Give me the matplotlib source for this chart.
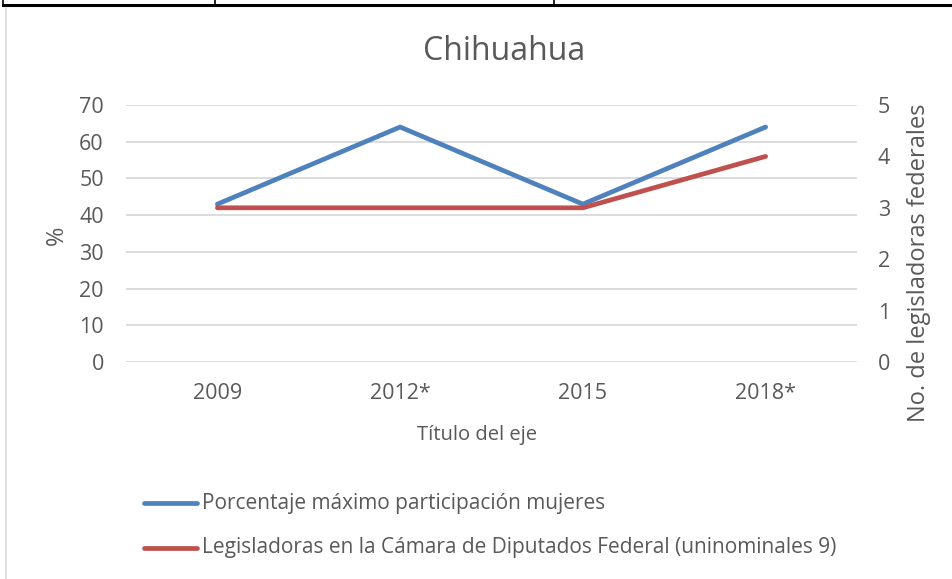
import matplotlib
matplotlib.use("Agg")
import matplotlib.pyplot as plt
from matplotlib.lines import Line2D

categories = ["2009", "2012*", "2015", "2018*"]
pct_max = [43, 64, 43, 64]
legisladoras = [3, 3, 3, 4]
left_ticks = [0, 10, 20, 30, 40, 50, 60, 70]
right_ticks = [0, 1, 2, 3, 4, 5]

plt.rcParams['font.family'] = ['Open Sans', 'DejaVu Sans']
TXT = '#595959'
BLUE = '#4f81bd'
RED = '#c0504d'
GRID = '#d9d9d9'

W, H = 952, 579
fig = plt.figure(figsize=(W/100, H/100), dpi=100)

def fx(px): return px / W
def fy(py): return 1 - py / H

# table borders on top
fig.add_artist(Line2D([fx(3), fx(952)], [fy(5), fy(5)], color='black', lw=2.2))
for xv in [3, 215, 554]:
    fig.add_artist(Line2D([fx(xv), fx(xv)], [fy(0), fy(5)], color='black', lw=1.2))
fig.add_artist(Line2D([fx(5.5), fx(5.5)], [fy(8), fy(579)], color='#d9d9d9', lw=1.2))

ax = fig.add_axes([fx(126), fy(362), fx(857-126), (362-105)/H])
x = list(range(len(categories)))
ax.set_xlim(-0.5, 3.5)
ax.set_ylim(0, 70)
ax.set_yticks(left_ticks)
ax.yaxis.grid(True, color=GRID, lw=1.3)
ax.set_axisbelow(True)
for s in ax.spines.values():
    s.set_visible(False)
ax.tick_params(length=0, colors=TXT, labelsize=15.5)
ax.tick_params(axis='y', pad=16)
ax.tick_params(axis='x', pad=15)
ax.set_xticks(x)
ax.set_xticklabels(categories)

ax2 = ax.twinx()
ax2.set_ylim(0, 5)
ax2.set_yticks(right_ticks)
for s in ax2.spines.values():
    s.set_visible(False)
ax2.tick_params(length=0, colors=TXT, labelsize=15.5, pad=15)

ax.plot(x, pct_max, color=BLUE, lw=3.4, solid_capstyle='round', zorder=3)
ax2.plot(x, legisladoras, color=RED, lw=3.4, solid_capstyle='round', zorder=3)

ax.set_xlabel("Título del eje", color=TXT, fontsize=14.5, va='center')
ax.xaxis.set_label_coords(fx(477), fy(435), transform=fig.transFigure)
ax.set_ylabel("%", color=TXT, fontsize=17, va='center')
ax.yaxis.set_label_coords(fx(57), fy(235), transform=fig.transFigure)
ax2.set_ylabel("No. de legisladoras federales", color=TXT, fontsize=17, va='center')
ax2.yaxis.set_label_coords(fx(919), fy(263), transform=fig.transFigure)

fig.text(fx(504), fy(52), "Chihuahua", ha='center', va='center', color=TXT, fontsize=23)

# legend drawn manually
for py, col, lab in [(503, BLUE, "Porcentaje máximo participación mujeres"),
                     (548, RED, "Legisladoras en la Cámara de Diputados Federal (uninominales 9)")]:
    fig.add_artist(Line2D([fx(144), fx(197)], [fy(py), fy(py)], color=col, lw=3.4, solid_capstyle='round'))
    fig.text(fx(202), fy(py), lab, ha='left', va='center', color=TXT, fontsize=15)

fig.savefig("out.png", dpi=100, facecolor='white')
